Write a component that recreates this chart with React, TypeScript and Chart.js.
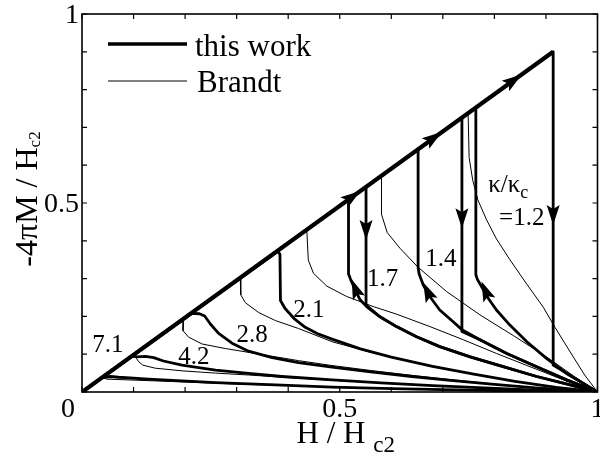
import React, { useEffect, useRef } from 'react';
import { Chart, registerables } from 'chart.js';

Chart.register(...registerables);

type P = [number, number];

// ---- axes ----
const TICK_VALUES = [0, 0.1, 0.2, 0.3, 0.4, 0.5, 0.6, 0.7, 0.8, 0.9, 1];
const X_LABEL_VALUES = [0.5, 1];
const X_LABEL_TEXT = ['0.5', '1'];
const Y_LABEL_VALUES = [0.5, 1];
const Y_LABEL_TEXT = ['0.5', '1'];
const ORIGIN_LABEL = '0';
const X_TITLE = 'H / H';
const X_TITLE_SUB = 'c2';
const Y_TITLE = '-4\u03c0M / H';
const Y_TITLE_SUB = 'c2';

// ---- legend ----
const SERIES_NAMES = ['this work', 'Brandt'];

// ---- "this work" (thick) ----
const DIAGONAL: P[] = [[0, 0], [0.914, 0.9]];
const W12_UP: P[] = [[0, 0], [0.914, 0.9], [0.914, 0.071], [1, 0]];
const W12_DOWN: P[] = [[1, 0], [0.972, 0.023], [0.94, 0.049], [0.901, 0.089], [0.863, 0.133], [0.83, 0.177], [0.804, 0.217], [0.788, 0.248], [0.775, 0.279], [0.767, 0.298], [0.764, 0.31], [0.764, 0.752]];
const W14_UP: P[] = [[0, 0], [0.737, 0.726], [0.737, 0.16], [0.772, 0.138], [0.824, 0.102], [0.882, 0.067], [0.94, 0.032], [1, 0]];
const W14_DOWN: P[] = [[1, 0], [0.94, 0.032], [0.882, 0.067], [0.824, 0.102], [0.772, 0.138], [0.737, 0.165], [0.72, 0.186], [0.694, 0.217], [0.675, 0.252], [0.662, 0.283], [0.654, 0.312], [0.652, 0.33], [0.652, 0.642]];
const W17_UP: P[] = [[0, 0], [0.551, 0.543], [0.551, 0.23], [0.578, 0.199], [0.61, 0.173], [0.649, 0.146], [0.694, 0.12], [0.753, 0.093], [0.817, 0.067], [0.882, 0.041], [0.947, 0.019], [1, 0]];
const W17_DOWN: P[] = [[1, 0], [0.947, 0.019], [0.882, 0.041], [0.817, 0.067], [0.753, 0.093], [0.694, 0.12], [0.649, 0.146], [0.61, 0.173], [0.578, 0.199], [0.552, 0.226], [0.539, 0.245], [0.53, 0.27], [0.521, 0.298], [0.517, 0.312], [0.517, 0.509]];
const W21: P[] = [[0, 0], [0.38, 0.372], [0.384, 0.364], [0.385, 0.242], [0.394, 0.221], [0.411, 0.195], [0.433, 0.171], [0.459, 0.153], [0.485, 0.14], [0.54, 0.114], [0.6, 0.092], [0.68, 0.068], [0.76, 0.047], [0.84, 0.028], [0.92, 0.012], [1, 0]];
const W28: P[] = [[0, 0], [0.213, 0.208], [0.228, 0.207], [0.238, 0.201], [0.249, 0.18], [0.265, 0.155], [0.291, 0.129], [0.323, 0.108], [0.369, 0.091], [0.42, 0.078], [0.485, 0.066], [0.56, 0.053], [0.64, 0.041], [0.72, 0.03], [0.8, 0.02], [0.88, 0.011], [0.95, 0.004], [1, 0]];
const W42: P[] = [[0, 0], [0.097, 0.095], [0.106, 0.093], [0.123, 0.094], [0.139, 0.091], [0.158, 0.082], [0.194, 0.071], [0.259, 0.058], [0.323, 0.049], [0.388, 0.041], [0.485, 0.032], [0.58, 0.024], [0.68, 0.017], [0.78, 0.011], [0.88, 0.005], [1, 0]];
const W71: P[] = [[0, 0], [0.039, 0.038], [0.055, 0.041], [0.071, 0.039], [0.129, 0.034], [0.259, 0.025], [0.388, 0.018], [0.485, 0.013], [0.6, 0.009], [0.75, 0.005], [0.88, 0.002], [1, 0]];

// ---- Brandt (thin) ----
const B12: P[] = [[0.749, 0.737], [0.751, 0.62], [0.758, 0.56], [0.768, 0.508], [0.785, 0.455], [0.804, 0.405], [0.83, 0.35], [0.863, 0.285], [0.895, 0.224], [0.918, 0.17], [0.947, 0.106], [0.975, 0.045], [1, 0]];
const B14: P[] = [[0.581, 0.572], [0.581, 0.47], [0.592, 0.422], [0.617, 0.38], [0.652, 0.33], [0.707, 0.266], [0.772, 0.204], [0.837, 0.149], [0.901, 0.093], [0.955, 0.041], [1, 0]];
const B17: P[] = [[0.436, 0.43], [0.439, 0.349], [0.449, 0.314], [0.475, 0.28], [0.513, 0.253], [0.565, 0.226], [0.61, 0.206], [0.675, 0.173], [0.74, 0.138], [0.804, 0.102], [0.869, 0.067], [0.934, 0.032], [1, 0]];
const B21: P[] = [[0.307, 0.302], [0.308, 0.257], [0.317, 0.236], [0.343, 0.21], [0.375, 0.189], [0.42, 0.168], [0.485, 0.133], [0.56, 0.105], [0.64, 0.08], [0.72, 0.058], [0.8, 0.038], [0.88, 0.02], [0.95, 0.007], [1, 0]];
const B28: P[] = [[0.197, 0.194], [0.196, 0.162], [0.207, 0.145], [0.233, 0.127], [0.278, 0.115], [0.336, 0.102], [0.42, 0.083], [0.485, 0.07], [0.56, 0.057], [0.64, 0.044], [0.72, 0.032], [0.8, 0.021], [0.88, 0.011], [0.95, 0.004], [1, 0]];
const B42: P[] = [[0.1, 0.099], [0.106, 0.088], [0.11, 0.08], [0.118, 0.071], [0.142, 0.063], [0.194, 0.056], [0.259, 0.05], [0.323, 0.045], [0.4, 0.038], [0.5, 0.03], [0.6, 0.023], [0.7, 0.016], [0.8, 0.01], [0.9, 0.004], [1, 0]];
const B71: P[] = [[0.04, 0.039], [0.048, 0.034], [0.07, 0.033], [0.15, 0.029], [0.3, 0.021], [0.5, 0.013], [0.75, 0.005], [1, 0]];

const THICK_SERIES: P[][] = [W12_UP, W12_DOWN, W14_UP, W14_DOWN, W17_UP, W17_DOWN, W21, W28, W42, W71];
const THIN_SERIES: P[][] = [B12, B14, B17, B21, B28, B42, B71];

// ---- arrows: [tipX, tipY, tailX, tailY] ----
const ARROWS: [number, number, number, number][] = [
  [0.853, 0.84, 0.82, 0.808],
  [0.698, 0.688, 0.665, 0.656],
  [0.54, 0.532, 0.507, 0.5],
  [0.914, 0.442, 0.914, 0.5],
  [0.737, 0.433, 0.737, 0.49],
  [0.551, 0.402, 0.551, 0.46],
  [0.523, 0.298, 0.539, 0.243],
  [0.662, 0.29, 0.678, 0.243],
  [0.775, 0.292, 0.791, 0.241],
];

// ---- curve labels (center x, baseline y) ----
const CURVE_LABELS = ['7.1', '4.2', '2.8', '2.1', '1.7', '1.4', '=1.2'];
const CURVE_LABEL_X = [0.05, 0.217, 0.33, 0.44, 0.583, 0.696, 0.853];
const CURVE_LABEL_Y = [0.107, 0.074, 0.133, 0.199, 0.28, 0.333, 0.442];
const KAPPA_LABEL = '\u03ba/\u03ba';
const KAPPA_SUB = 'c';
const KAPPA_X = 0.788;
const KAPPA_Y = 0.529;

const FONT = "'Liberation Serif', 'Times New Roman', serif";

function text(ctx: CanvasRenderingContext2D, s: string, x: number, y: number, size: number, align: CanvasTextAlign) {
  ctx.font = `${size}px ${FONT}`;
  ctx.textAlign = align;
  ctx.textBaseline = 'alphabetic';
  ctx.fillText(s, x, y);
}

const decorPlugin = {
  id: 'decor',
  afterDraw(chart: any) {
    const ctx: CanvasRenderingContext2D = chart.ctx;
    const a = chart.chartArea;
    const xs = chart.scales.x;
    const ys = chart.scales.y;
    ctx.save();
    ctx.fillStyle = '#000';
    ctx.strokeStyle = '#000';

    // frame
    ctx.lineWidth = 1.6;
    ctx.strokeRect(a.left, a.top, a.right - a.left, a.bottom - a.top);

    // inward ticks
    ctx.lineWidth = 1.2;
    ctx.beginPath();
    for (const v of TICK_VALUES) {
      const px = xs.getPixelForValue(v);
      ctx.moveTo(px, a.bottom); ctx.lineTo(px, a.bottom - 5);
      ctx.moveTo(px, a.top); ctx.lineTo(px, a.top + 5);
      const py = ys.getPixelForValue(v);
      ctx.moveTo(a.left, py); ctx.lineTo(a.left + 5, py);
      ctx.moveTo(a.right, py); ctx.lineTo(a.right - 5, py);
    }
    ctx.stroke();

    // tick labels
    X_LABEL_VALUES.forEach((v, i) => text(ctx, X_LABEL_TEXT[i], xs.getPixelForValue(v), a.bottom + 25, 28, 'center'));
    Y_LABEL_VALUES.forEach((v, i) => text(ctx, Y_LABEL_TEXT[i], a.left - 3, ys.getPixelForValue(v) + 9, 28, 'right'));
    text(ctx, ORIGIN_LABEL, a.left - 14, a.bottom + 25, 28, 'center');

    // x title
    const cx = (a.left + a.right) / 2;
    ctx.font = `31px ${FONT}`;
    const wMain = ctx.measureText(X_TITLE + ' ').width;
    ctx.font = `23px ${FONT}`;
    const wSub = ctx.measureText(X_TITLE_SUB).width;
    const x0 = cx - (wMain + wSub) / 2 + 6;
    text(ctx, X_TITLE + ' ', x0, a.bottom + 51, 31, 'left');
    text(ctx, X_TITLE_SUB, x0 + wMain, a.bottom + 60, 23, 'left');

    // y title
    ctx.save();
    ctx.translate(a.left - 45, (a.top + a.bottom) / 2 - 4);
    ctx.rotate(-Math.PI / 2);
    ctx.font = `32px ${FONT}`;
    const yMain = ctx.measureText(Y_TITLE).width;
    ctx.font = `17px ${FONT}`;
    const ySub = ctx.measureText(Y_TITLE_SUB).width;
    const y0 = -(yMain + ySub) / 2;
    text(ctx, Y_TITLE, y0, 0, 32, 'left');
    text(ctx, Y_TITLE_SUB, y0 + yMain, 3, 17, 'left');
    ctx.restore();

    // legend
    const lx0 = a.left + 26;
    const lx1 = a.left + 105;
    ctx.lineWidth = 3.4;
    ctx.beginPath(); ctx.moveTo(lx0, a.top + 30); ctx.lineTo(lx1, a.top + 30); ctx.stroke();
    ctx.lineWidth = 1.1;
    ctx.beginPath(); ctx.moveTo(lx0, a.top + 67); ctx.lineTo(lx1, a.top + 67); ctx.stroke();
    text(ctx, SERIES_NAMES[0], lx1 + 8, a.top + 42, 31, 'left');
    text(ctx, SERIES_NAMES[1], lx1 + 10, a.top + 78, 31, 'left');

    // curve labels
    CURVE_LABELS.forEach((s, i) => text(ctx, s, xs.getPixelForValue(CURVE_LABEL_X[i]), ys.getPixelForValue(CURVE_LABEL_Y[i]), 25, 'center'));
    const kx = xs.getPixelForValue(KAPPA_X);
    const ky = ys.getPixelForValue(KAPPA_Y);
    text(ctx, KAPPA_LABEL, kx, ky, 25, 'left');
    ctx.font = `25px ${FONT}`;
    const kw = ctx.measureText(KAPPA_LABEL).width;
    text(ctx, KAPPA_SUB, kx + kw, ky + 6, 18, 'left');

    // arrows
    for (const [tx, ty, fx, fy] of ARROWS) {
      const px = xs.getPixelForValue(tx);
      const py = ys.getPixelForValue(ty);
      const qx = xs.getPixelForValue(fx);
      const qy = ys.getPixelForValue(fy);
      const ang = Math.atan2(py - qy, px - qx);
      const L = 20;
      const W = 6.5;
      const bx = px - L * Math.cos(ang);
      const by = py - L * Math.sin(ang);
      const nx = -Math.sin(ang);
      const ny = Math.cos(ang);
      const ix = px - L * 0.8 * Math.cos(ang);
      const iy = py - L * 0.8 * Math.sin(ang);
      ctx.beginPath();
      ctx.moveTo(px, py);
      ctx.lineTo(bx + nx * W, by + ny * W);
      ctx.lineTo(ix, iy);
      ctx.lineTo(bx - nx * W, by - ny * W);
      ctx.closePath();
      ctx.fill();
    }
    ctx.restore();
  },
};

export default function App() {
  const ref = useRef<HTMLCanvasElement | null>(null);
  useEffect(() => {
    document.body.style.margin = '0';
    document.body.style.overflow = 'hidden';
    const canvas = ref.current;
    if (!canvas) return;
    const toXY = (pts: P[]) => pts.map(([x, y]) => ({ x, y }));
    const datasets: any[] = [];
    datasets.push({ label: SERIES_NAMES[0], data: toXY(DIAGONAL), borderWidth: 4.2, borderColor: '#000' });
    THICK_SERIES.forEach((s) => datasets.push({ label: SERIES_NAMES[0], data: toXY(s), borderWidth: 2.8, borderColor: '#000' }));
    THIN_SERIES.forEach((s) => datasets.push({ label: SERIES_NAMES[1], data: toXY(s), borderWidth: 1, borderColor: '#000' }));
    datasets.forEach((d) => { d.showLine = true; d.pointRadius = 0; d.fill = false; d.tension = 0; d.borderJoinStyle = 'round'; });
    const chart = new Chart(canvas, {
      type: 'scatter',
      data: { datasets },
      options: {
        animation: false,
        responsive: false,
        events: [],
        layout: { padding: { left: 82, top: 14, right: 2.5, bottom: 67 } },
        plugins: { legend: { display: false }, tooltip: { enabled: false } },
        scales: {
          x: { type: 'linear', min: 0, max: 1, display: false },
          y: { type: 'linear', min: 0, max: 1, display: false },
        },
      },
      plugins: [decorPlugin],
    });
    return () => chart.destroy();
  }, []);
  return <canvas ref={ref} width={600} height={459} style={{ display: 'block', width: 600, height: 459 }} />;
}
